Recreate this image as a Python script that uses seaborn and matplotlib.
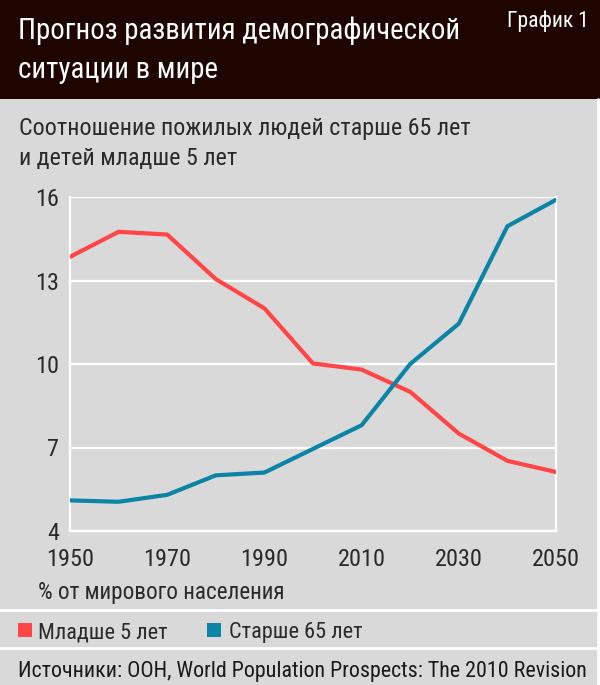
import numpy as np
import pandas as pd
import matplotlib
matplotlib.use("Agg")
import matplotlib.pyplot as plt
from matplotlib import font_manager
from matplotlib.patches import Rectangle
import seaborn as sns

# data (% of world population)
years = [1950, 1960, 1970, 1980, 1990, 2000, 2010, 2020, 2030, 2040, 2050]
under5 = [13.85, 14.75, 14.65, 13.05, 12.0, 10.02, 9.8, 9.0, 7.5, 6.52, 6.12]
over65 = [5.1, 5.05, 5.3, 6.0, 6.1, 6.95, 7.8, 10.0, 11.45, 14.95, 15.9]
series_names = ["Младше 5 лет", "Старше 65 лет"]
y_ticks = [4, 7, 10, 13, 16]
x_ticks = [1950, 1970, 1990, 2010, 2030, 2050]

RED = "#ff4545"
BLUE = "#0b84a5"
BG = "#d9d9d9"
BAND = "#1f0500"
INK = "#2a2a2a"

df = pd.DataFrame({
    "year": years * 2,
    "value": under5 + over65,
    "group": [series_names[0]] * len(years) + [series_names[1]] * len(years),
})

sns.set_theme(style="white")
available = {f.name for f in font_manager.fontManager.ttflist}
family = "DejaVu Sans"
for cand in ["Liberation Sans Narrow", "Roboto Condensed", "Liberation Sans", "Roboto"]:
    if cand in available:
        family = cand
        break
plt.rcParams["font.family"] = [family, "DejaVu Sans"]

fig = plt.figure(figsize=(6, 6.85), dpi=100, facecolor=BG)
H = 685.0
W = 600.0


def fy(py):
    # pixel row from the top -> figure fraction
    return 1 - py / H


# dark title band
fig.patches.append(Rectangle((0, fy(99)), 1, 99 / H, transform=fig.transFigure,
                             facecolor=BAND, edgecolor="none", zorder=0))
fig.text(18 / W, fy(39), "Прогноз развития демографической", color="white",
         fontsize=20.8, va="baseline", ha="left")
fig.text(18 / W, fy(78), "ситуации в мире", color="white",
         fontsize=20.8, va="baseline", ha="left")
fig.text(589 / W, fy(27), "График 1", color="white", fontsize=15.5,
         va="baseline", ha="right")

fig.text(19 / W, fy(135), "Соотношение пожилых людей старше 65 лет", color=INK,
         fontsize=17.3, va="baseline", ha="left")
fig.text(19 / W, fy(165), "и детей младше 5 лет", color=INK,
         fontsize=17.3, va="baseline", ha="left")

ax = fig.add_axes([70 / W, fy(531), 486 / W, 334 / H])
ax.set_facecolor(BG)
sns.lineplot(data=df, x="year", y="value", hue="group", palette=[RED, BLUE],
             linewidth=3, ax=ax, legend=False, zorder=3)

ax.set_xlim(1950, 2050)
ax.set_ylim(4, 16)
ax.set_yticks(y_ticks)
ax.set_xticks(x_ticks)
ax.set_xlabel("")
ax.set_ylabel("")
ax.grid(axis="y", color="white", linewidth=1.6, zorder=1)
ax.tick_params(axis="x", direction="in", length=9, width=1.6, color="white",
               labelsize=17.5, labelcolor=INK, pad=12)
ax.tick_params(axis="y", length=0, labelsize=17.5, labelcolor=INK, pad=8)
for side in ["left", "right", "bottom"]:
    ax.spines[side].set_color("white")
    ax.spines[side].set_linewidth(1.6)
ax.spines["top"].set_visible(False)

fig.text(38 / W, fy(599), "% от мирового населения", color=INK,
         fontsize=16.7, va="baseline", ha="left")

# white separators
for yy in [610, 648]:
    fig.lines.append(plt.Line2D([0, 1], [fy(yy), fy(yy)], transform=fig.transFigure,
                                color="white", linewidth=2))
fig.lines.append(plt.Line2D([598 / W, 598 / W], [0, fy(99)], transform=fig.transFigure,
                            color="white", linewidth=2))

# legend
fig.patches.append(Rectangle((18 / W, fy(637)), 14 / W, 14 / H, transform=fig.transFigure,
                             facecolor=RED, edgecolor="none"))
fig.text(38 / W, fy(638), series_names[0], color=INK, fontsize=16,
         va="baseline", ha="left")
fig.patches.append(Rectangle((207 / W, fy(637)), 14 / W, 14 / H, transform=fig.transFigure,
                             facecolor=BLUE, edgecolor="none"))
fig.text(229 / W, fy(638), series_names[1], color=INK, fontsize=16,
         va="baseline", ha="left")

fig.text(18 / W, fy(677), "Источники: ООН, World Population Prospects: The 2010 Revision",
         color="#1a1a1a", fontsize=15.8, va="baseline", ha="left")

fig.savefig("out.png", dpi=100, facecolor=BG)
